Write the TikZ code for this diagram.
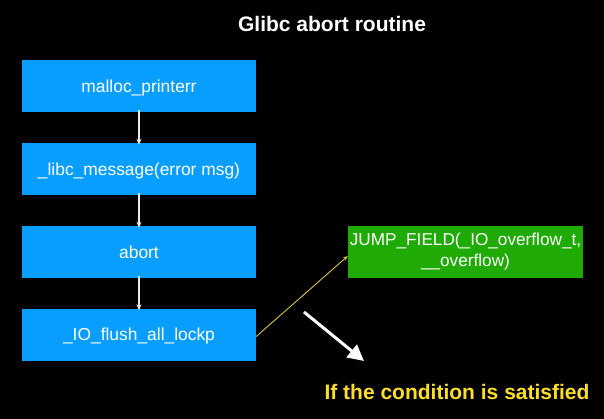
\documentclass[tikz,border=0pt]{standalone}
\usepackage{fontspec}
\setmainfont{Liberation Sans}
\usetikzlibrary{arrows.meta}
\definecolor{boxblue}{RGB}{8,158,255}
\definecolor{boxgreen}{RGB}{32,170,4}
\definecolor{txtyellow}{RGB}{252,222,40}
\definecolor{lineyellow}{RGB}{214,196,70}
\begin{document}
\begin{tikzpicture}[x=1pt,y=-1pt,
  bluebox/.style={fill=boxblue,minimum width=234pt,minimum height=52pt,inner sep=0pt,text depth=0pt,text=white,font=\fontsize{17.4}{21}\selectfont},
  greenbox/.style={fill=boxgreen,minimum width=235pt,minimum height=52pt,inner sep=0pt,text=white,align=center,font=\fontsize{17.2}{21}\selectfont},
  smallarrow/.style={draw=white!92!black,line width=1.2pt,-{Stealth[length=6pt,width=5pt]}},
  bigtext/.style={font=\bfseries\fontsize{21}{25}\selectfont}]
\fill[black] (0,0) rectangle (604,419);
\useasboundingbox (0,0) rectangle (604,419);
\node[bigtext,text=white,anchor=base] (title) at (332,32) {Glibc abort routine};
\node[bluebox] (a) at (139,86) {malloc\_printerr};
\node[bluebox] (b) at (139,169) {\_libc\_message(error msg)};
\node[bluebox] (c) at (139,252) {abort};
\node[bluebox] (d) at (139,334.5) {\_IO\_flush\_all\_lockp};
\node[greenbox] (g) at (465.5,252) {JUMP\_FIELD(\_IO\_overflow\_t,\\\_\_overflow)};
\node[bigtext,text=txtyellow,anchor=base] (cond) at (457,399) {If the condition is satisfied};
\draw[smallarrow] ([yshift=2pt]a.south) -- ([yshift=-2pt]b.north);
\draw[smallarrow] ([yshift=2pt]b.south) -- ([yshift=-2pt]c.north);
\draw[smallarrow] ([yshift=2pt]c.south) -- ([yshift=-2pt]d.north);
\draw[lineyellow,line width=0.9pt,-{Stealth[length=5pt,width=4pt]}] ([yshift=-2pt]d.east) -- ([yshift=-4pt]g.west);
\coordinate (w1) at (304,312);
\coordinate (w2) at (364,361);
\draw[white,line width=3pt,-{Triangle[length=16pt,width=16pt]}] (w1) -- (w2);
\end{tikzpicture}
\end{document}
